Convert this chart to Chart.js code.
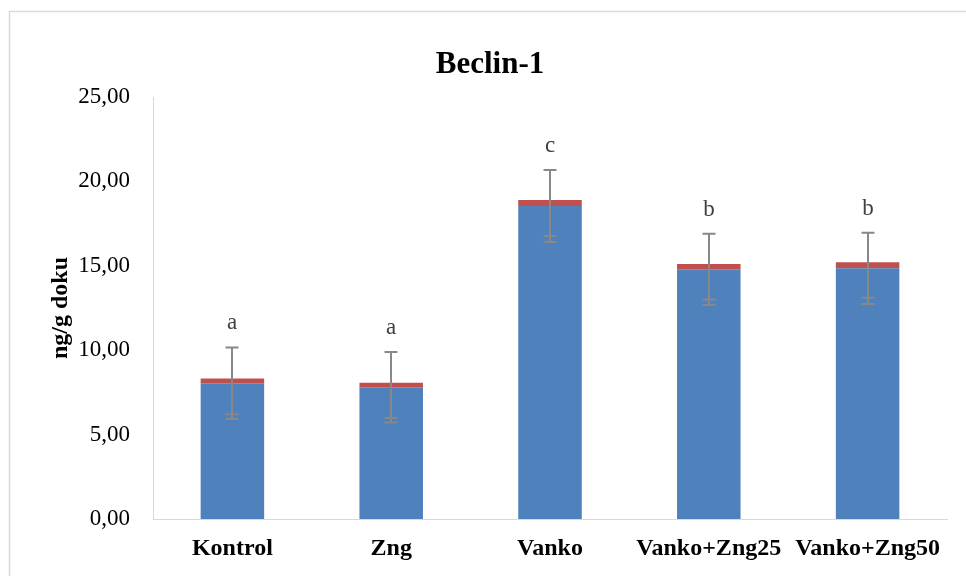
<!DOCTYPE html>
<html>
<head>
<meta charset="utf-8">
<script src="https://cdn.jsdelivr.net/npm/chart.js@4/dist/chart.umd.min.js"></script>
<style>
  body { margin: 0; background: #fff; }
  #wrap { width: 966px; height: 576px; }
</style>
</head>
<body>
<div id="wrap"><canvas id="myChart" width="966" height="576"></canvas></div>
<script>
// data
var groups = ['Kontrol', 'Zng', 'Vanko', 'Vanko+Zng25', 'Vanko+Zng50'];
var blueVals = [8.04, 7.80, 18.54, 14.79, 14.85];
var redVals = [0.29, 0.27, 0.36, 0.32, 0.36];
var sdVals = [2.12, 2.09, 2.13, 2.11, 2.11];
var letters = ['a', 'a', 'c', 'b', 'b'];
var yTicks = [0, 5, 10, 15, 20, 25];

var serif = '"Liberation Serif", "Times New Roman", serif';

// frame, title, error bars and letters
var extras = {
  id: 'extras',
  beforeDraw: function(chart) {
    var ctx = chart.ctx;
    ctx.save();
    ctx.fillStyle = '#fff';
    ctx.fillRect(0, 0, chart.width, chart.height);
    ctx.strokeStyle = '#d9d9d9';
    ctx.lineWidth = 1.5;
    ctx.strokeRect(9.5, 11.5, 970, 580);
    ctx.restore();
  },
  afterDatasetsDraw: function(chart) {
    var ctx = chart.ctx;
    var xs = chart.scales.x, ys = chart.scales.y;
    ctx.save();
    ctx.strokeStyle = '#888888';
    ctx.lineWidth = 2;
    var cap = 6.5;
    for (var i = 0; i < groups.length; i++) {
      var x = Math.round(xs.getPixelForValue(i));
      var hi = ys.getPixelForValue(blueVals[i] + sdVals[i]);
      var lo = ys.getPixelForValue(blueVals[i] - sdVals[i]);
      var top = blueVals[i] + redVals[i];
      var lo2 = ys.getPixelForValue(top - sdVals[i]);
      ctx.beginPath();
      ctx.moveTo(x, hi); ctx.lineTo(x, lo);
      ctx.moveTo(x - cap, hi); ctx.lineTo(x + cap, hi);
      ctx.moveTo(x - cap, lo); ctx.lineTo(x + cap, lo);
      ctx.moveTo(x - cap, lo2); ctx.lineTo(x + cap, lo2);
      ctx.stroke();

      ctx.fillStyle = '#404040';
      ctx.font = '23px ' + serif;
      ctx.textAlign = 'center';
      ctx.textBaseline = 'alphabetic';
      ctx.fillText(letters[i], x, hi - 18);
    }
    ctx.fillStyle = '#000';
    ctx.font = 'bold 31px ' + serif;
    ctx.textAlign = 'center';
    ctx.textBaseline = 'middle';
    ctx.fillText('Beclin-1', 490, 65);
    ctx.restore();
  }
};

const ctx = document.getElementById('myChart');
new Chart(ctx, {
  type: 'bar',
  data: {
    labels: groups,
    datasets: [{
      data: blueVals,
      backgroundColor: '#4F81BD',
      borderWidth: 0
    }, {
      data: redVals,
      backgroundColor: '#C0504D',
      borderWidth: 0
    }]
  },
  options: {
    responsive: false,
    animation: false,
    layout: {
      padding: { top: 97, right: 19, bottom: 0, left: 0 }
    },
    datasets: {
      bar: { categoryPercentage: 1, barPercentage: 0.4 }
    },
    plugins: {
      legend: { display: false },
      tooltip: { enabled: false },
      title: { display: false }
    },
    scales: {
      x: {
        stacked: true,
        grid: { display: false, drawTicks: false },
        border: { display: true, color: '#d9d9d9', width: 1 },
        ticks: {
          color: '#000',
          padding: 15,
          maxRotation: 0,
          autoSkip: false,
          font: { family: serif, size: 24, weight: 'bold' }
        },
        afterFit: function(scale) { scale.height = 57; }
      },
      y: {
        stacked: true,
        min: 0,
        max: 25,
        afterBuildTicks: function(scale) {
          scale.ticks = yTicks.map(function(v) { return { value: v }; });
        },
        grid: { display: false, drawTicks: false },
        border: { display: true, color: '#d9d9d9', width: 1 },
        ticks: {
          color: '#000',
          padding: 23,
          font: { family: serif, size: 23 },
          callback: function(v) { return v.toFixed(2).replace('.', ','); }
        },
        title: {
          display: true,
          text: 'ng/g doku',
          color: '#000',
          padding: { top: 46, bottom: 0 },
          font: { family: serif, size: 24, weight: 'bold' }
        },
        afterFit: function(scale) { scale.width = 153; }
      }
    }
  },
  plugins: [extras]
});
</script>
</body>
</html>
